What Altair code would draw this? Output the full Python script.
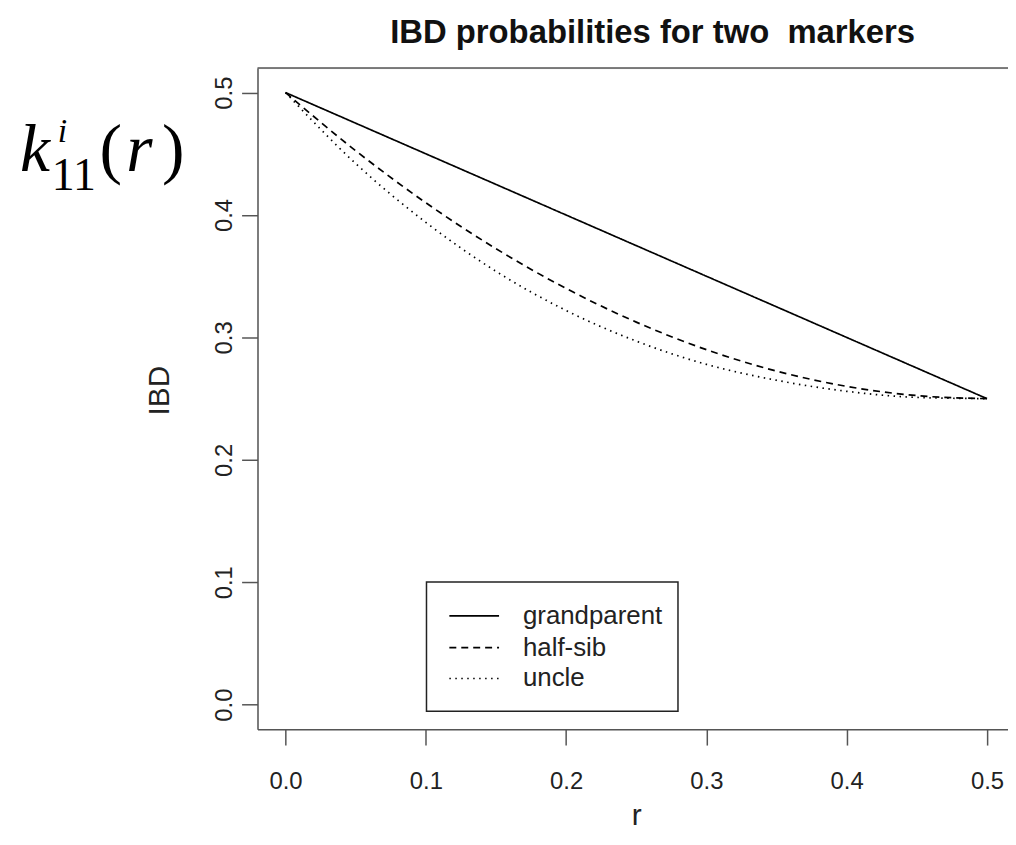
import altair as alt
import pandas as pd

# ---- data ----
r_vals = [0.0, 0.05, 0.10, 0.15, 0.20, 0.25, 0.30, 0.35, 0.40, 0.45, 0.50]
grandparent = [0.500, 0.475, 0.450, 0.425, 0.400, 0.375, 0.350, 0.325, 0.300, 0.275, 0.250]
half_sib = [0.500, 0.4525, 0.410, 0.3725, 0.340, 0.3125, 0.290, 0.2725, 0.260, 0.2525, 0.250]
uncle = [0.500, 0.442, 0.394, 0.354, 0.322, 0.297, 0.278, 0.265, 0.256, 0.251, 0.250]
series_names = ["grandparent", "half-sib", "uncle"]
series_dash = [[1, 0], [7, 5], [1.5, 4.5]]
x_ticks = [0.0, 0.1, 0.2, 0.3, 0.4, 0.5]
y_ticks = [0.0, 0.1, 0.2, 0.3, 0.4, 0.5]

rows = []
for name, vals in zip(series_names, [grandparent, half_sib, uncle]):
    for r, v in zip(r_vals, vals):
        rows.append({"r": r, "IBD": v, "rel": name})
df = pd.DataFrame(rows)

W, H = 755, 665
FONT = "Liberation Sans"
AX = "#555555"
OX, OY = 259, 66  # plot origin on the page

xscale = alt.Scale(domain=[-0.02, 0.515], nice=False, zero=False)
yscale = alt.Scale(domain=[-0.02, 0.52], nice=False, zero=False)

lines = alt.Chart(df).mark_line(color="black", strokeWidth=1.7, interpolate="monotone").encode(
    x=alt.X("r:Q", scale=xscale,
            axis=alt.Axis(values=x_ticks, format=".1f", tickSize=16, tickColor=AX, tickWidth=1.5,
                          domainColor=AX, domainWidth=1.5, labelFontSize=24, labelFont=FONT,
                          labelColor="#222222", labelPadding=25, grid=False,
                          title="r", titleFont=FONT, titleFontSize=30, titleFontWeight="normal",
                          titleColor="#222222", titleX=381, titleY=96, titleBaseline="alphabetic",
                          titleAlign="center")),
    y=alt.Y("IBD:Q", scale=yscale,
            axis=alt.Axis(values=y_ticks, format=".1f", tickSize=16, tickColor=AX, tickWidth=1.5,
                          domainColor=AX, domainWidth=1.5, labelFontSize=24, labelFont=FONT,
                          labelColor="#222222", labelAngle=270, labelAlign="center",
                          labelBaseline="alphabetic", labelPadding=10, grid=False,
                          title="IBD", titleFont=FONT, titleFontSize=30, titleFontWeight="normal",
                          titleColor="#222222", titleAngle=270, titleX=-90, titleY=324,
                          titleBaseline="alphabetic", titleAlign="center")),
    strokeDash=alt.StrokeDash("rel:N",
        scale=alt.Scale(domain=series_names, range=series_dash), legend=None),
)

one = alt.Data(values=[{"a": 1}])
top_border = alt.Chart(one).mark_rule(color=AX, strokeWidth=1.5).encode(
    x=alt.value(0), x2=alt.value(W), y=alt.value(0))

# legend box drawn in the plot (as R's legend())
LX0, LX1, LY0, LY1 = 429 - OX, 682 - OX, 583 - OY, 713 - OY
legend_layers = [
    alt.Chart(one).mark_rect(fill="white", stroke="#222222", strokeWidth=1.5).encode(
        x=alt.value(LX0), x2=alt.value(LX1), y=alt.value(LY0), y2=alt.value(LY1))
]
row_y = [617, 649, 680]
for name, dash, yy in zip(series_names, series_dash, row_y):
    legend_layers.append(
        alt.Chart(one).mark_rule(color="black", strokeWidth=1.6, strokeDash=dash).encode(
            x=alt.value(452 - OX), x2=alt.value(502 - OX), y=alt.value(yy - OY)))
    legend_layers.append(
        alt.Chart(one).mark_text(text=name, font=FONT, fontSize=26, align="left",
                                 baseline="middle", color="#222222").encode(
            x=alt.value(526 - OX), y=alt.value(yy - OY)))

# math label k_11^i(r)
math_parts = [
    {"t": "k", "x": 20, "y": 169, "s": 68, "st": "italic"},
    {"t": "11", "x": 52, "y": 189, "s": 46, "st": "normal"},
    {"t": "i", "x": 58, "y": 140, "s": 34, "st": "italic"},
    {"t": "(", "x": 100, "y": 170, "s": 68, "st": "normal"},
    {"t": "r", "x": 127, "y": 169, "s": 68, "st": "italic"},
    {"t": ")", "x": 163, "y": 170, "s": 68, "st": "normal"},
]
math_layers = []
for p in math_parts:
    math_layers.append(
        alt.Chart(one).mark_text(text=p["t"], font="Liberation Serif", fontSize=p["s"],
                                 fontStyle=p["st"], align="left", baseline="alphabetic",
                                 color="black").encode(
            x=alt.value(p["x"] - OX), y=alt.value(p["y"] - OY))
    )

chart = alt.layer(lines, top_border, *legend_layers, *math_layers).properties(
    width=W, height=H,
    title=alt.TitleParams("IBD probabilities for two \u00a0markers", font=FONT, fontSize=33,
                          fontWeight="bold", color="#111111", anchor="middle", offset=18, dx=20),
    autosize=alt.AutoSizeParams(type="none"),
    padding={"left": 251, "top": 58, "right": 0, "bottom": 103},
).configure_view(stroke=None).configure(background="white")

chart.save("out.html", embed_options={"renderer": "svg", "actions": False})
